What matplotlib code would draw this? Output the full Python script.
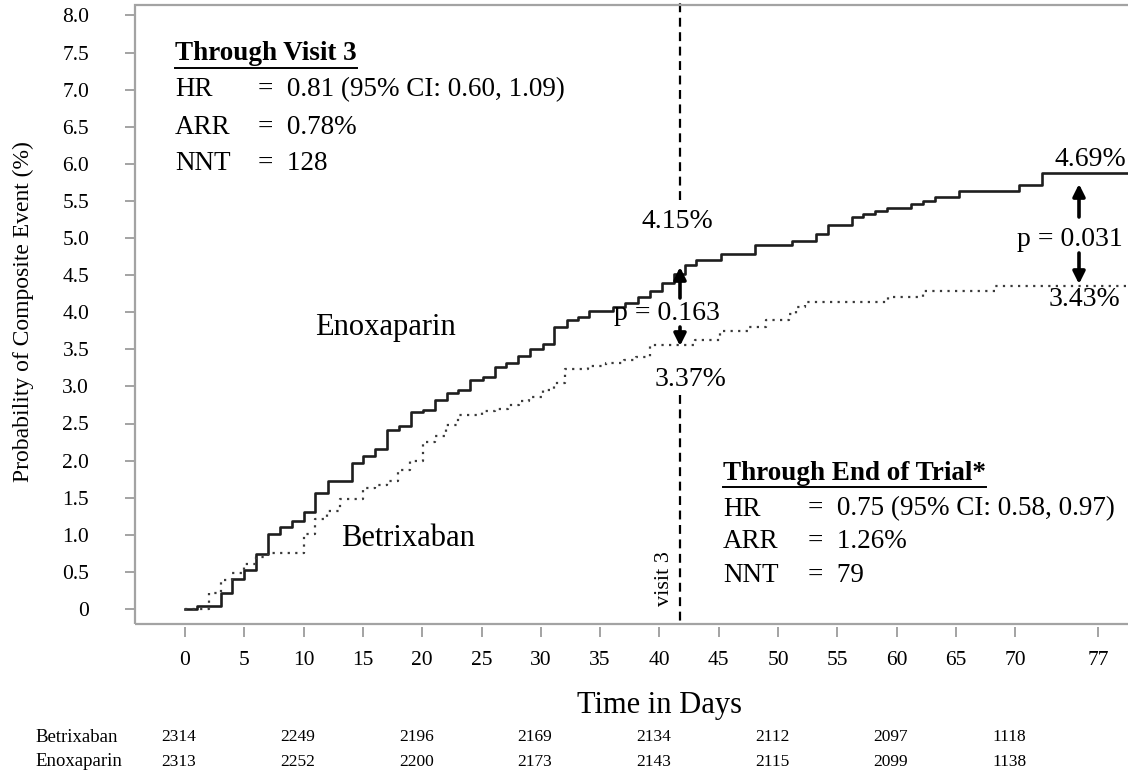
import matplotlib
matplotlib.use("Agg")
import matplotlib.pyplot as plt
from matplotlib.lines import Line2D
from matplotlib.patches import Rectangle
import matplotlib.transforms as mtransforms

plt.rcParams['font.family'] = ['Liberation Serif', 'DejaVu Serif']

# ---------------- data ----------------
enox_days = [0, 1.0, 3.0, 4.0, 5.0, 6.0, 7.0, 8.05, 9.05, 10.05, 11.0, 12.05, 14.05, 15.0,
             16.05, 17.05, 18.05, 19.05, 20.1, 21.1, 22.1, 23.0, 24.0, 25.1, 26.1, 27.1,
             28.1, 29.1, 30.2, 31.1, 32.2, 33.1, 34.1, 36.1, 37.1, 38.2, 39.2, 40.2, 41.2,
             42.2, 43.1, 45.2, 48.1, 51.2, 53.2, 54.2, 56.2, 57.2, 58.2, 59.2, 61.2, 62.2,
             63.2, 65.3, 70.3, 72.3, 80.5]
enox_vals = [0, 0.044, 0.21, 0.40, 0.53, 0.745, 1.01, 1.10, 1.19, 1.31, 1.57, 1.72, 1.97, 2.06,
             2.15, 2.41, 2.47, 2.65, 2.68, 2.82, 2.91, 2.95, 3.09, 3.13, 3.26, 3.31,
             3.41, 3.50, 3.57, 3.80, 3.89, 3.93, 4.02, 4.07, 4.13, 4.21, 4.28, 4.39, 4.51,
             4.64, 4.71, 4.78, 4.91, 4.96, 5.05, 5.18, 5.28, 5.32, 5.37, 5.41, 5.46, 5.50,
             5.55, 5.64, 5.71, 5.87, 5.87]

betr_days = [0, 2.0, 3.0, 4.0, 5.0, 6.0, 7.0, 10.0, 11.0, 12.0, 13.1, 15.0, 16.0, 17.0,
             18.0, 19.0, 20.1, 21.1, 22.0, 23.0, 25.0, 26.1, 27.2, 28.2, 29.0, 30.2, 31.1,
             32.0, 34.0, 35.5, 37.0, 38.0, 39.2, 43.0, 45.1, 47.5, 49.0, 50.9, 51.5, 52.3,
             59.3, 62.2, 68.3, 80.5]
betr_vals = [0, 0.21, 0.39, 0.48, 0.61, 0.70, 0.75, 1.01, 1.21, 1.32, 1.48, 1.63, 1.67, 1.72,
             1.87, 1.99, 2.25, 2.33, 2.48, 2.61, 2.67, 2.70, 2.75, 2.80, 2.86, 2.95, 3.05,
             3.24, 3.27, 3.32, 3.36, 3.40, 3.56, 3.63, 3.74, 3.80, 3.89, 3.98, 4.07, 4.14,
             4.21, 4.29, 4.35, 4.35]

x_ticks = [0, 5, 10, 15, 20, 25, 30, 35, 40, 45, 50, 55, 60, 65, 70, 77]
y_ticks = [0, 0.5, 1.0, 1.5, 2.0, 2.5, 3.0, 3.5, 4.0, 4.5, 5.0, 5.5, 6.0, 6.5, 7.0, 7.5, 8.0]
y_tick_labels = ['0'] + ['%.1f' % v for v in y_ticks[1:]]

risk_days = [0, 10, 20, 30, 40, 50, 60, 70]
risk_betrixaban = [2314, 2249, 2196, 2169, 2134, 2112, 2097, 1118]
risk_enoxaparin = [2313, 2252, 2200, 2173, 2143, 2115, 2099, 1138]

visit3_day = 41.74

W, H = 1128, 780
fig = plt.figure(figsize=(W / 100, H / 100), dpi=100)

# pixel-based axes placement
ax_left, ax_right, ax_top, ax_bottom = 135, 1136, 5, 624
ax = fig.add_axes([ax_left / W, 1 - ax_bottom / H, (ax_right - ax_left) / W, (ax_bottom - ax_top) / H])

x0px, xscale = 185.0, 11.86
y0px, yscale = 609.0, 74.2


def P(x, y):
    """pixel position -> data coordinates (for annotation placement)"""
    return (x - x0px) / xscale, (y0px - y) / yscale


ax.set_xlim(P(ax_left, 0)[0], P(ax_right, 0)[0])
ax.set_ylim(P(0, ax_bottom)[1], P(0, ax_top)[1])

for s in ax.spines.values():
    s.set_visible(False)
ax.spines['bottom'].set_position(('outward', 2.5))
frame_col = '#a3a3a3'
ax.add_patch(Rectangle((0, 0), 1, 1, transform=ax.transAxes, fill=False,
                       edgecolor=frame_col, lw=1.6, clip_on=False, zorder=5))

ax.set_xticks(x_ticks)
ax.set_xticklabels([str(t) for t in x_ticks], fontsize=15.5)
ax.set_yticks(y_ticks)
ax.set_yticklabels(y_tick_labels, fontsize=15.5)
ax.tick_params(axis='x', direction='out', length=7, width=1.4, color=frame_col, pad=10)
ax.tick_params(axis='y', direction='out', length=7, width=1.4, color=frame_col, pad=26)

# curves
ax.step(enox_days, enox_vals, where='post', color='#1e1e1e', lw=1.9, zorder=3)
ax.step(betr_days, betr_vals, where='post', color='#3a3a3a', lw=1.6,
        linestyle=(0, (1, 2.4)), zorder=3)

# visit 3 line (broken around the labels)
ax.plot([visit3_day, visit3_day], [P(0, 200)[1], 8.3], color='black', lw=1.6,
        linestyle=(0, (4, 2.5)), clip_on=False)
ax.plot([visit3_day, visit3_day], [P(0, 395)[1], P(0, 622)[1]], color='black', lw=1.6,
        linestyle=(0, (4, 2.5)))
ax.text(*P(664, 579), 'visit 3', rotation=90, ha='center', va='center', fontsize=16)

# group labels
ax.text(*P(385, 328), 'Enoxaparin', ha='center', va='center', fontsize=22)
ax.text(*P(408, 538), 'Betrixaban', ha='center', va='center', fontsize=22)

# percentages and p-values
ax.text(*P(677, 222), '4.15%', ha='center', va='center', fontsize=20)
ax.text(*P(690, 380), '3.37%', ha='center', va='center', fontsize=20)
ax.text(*P(667, 313), 'p = 0.163', ha='center', va='center', fontsize=20)
ax.text(*P(1090, 160), '4.69%', ha='center', va='center', fontsize=20)
ax.text(*P(1084, 300), '3.43%', ha='center', va='center', fontsize=20)
ax.text(*P(1070, 240), 'p = 0.031', ha='center', va='center', fontsize=20)

aprops = dict(arrowstyle='-|>', color='black', lw=2.6, mutation_scale=18, shrinkA=0, shrinkB=0)
ax.annotate('', xy=P(680, 267), xytext=P(680, 298), arrowprops=aprops)
ax.annotate('', xy=P(680, 346), xytext=P(680, 327), arrowprops=aprops)
ax.annotate('', xy=P(1079, 184), xytext=P(1079, 217), arrowprops=aprops)
ax.annotate('', xy=P(1079, 284), xytext=P(1079, 253), arrowprops=aprops)

# statistics blocks
fs_blk = 19.5


def block(x, ytitle, title, rows, eq_x, first_dy, dy):
    t = ax.text(*P(x, ytitle), title, fontsize=fs_blk, fontweight='bold', ha='left', va='center')
    for i, (lab, val) in enumerate(rows):
        yy = ytitle + first_dy + dy * i
        ax.text(*P(x, yy), lab, fontsize=fs_blk, ha='left', va='center')
        ax.text(*P(eq_x, yy), '=  ' + val, fontsize=fs_blk, ha='left', va='center')
    return t


t1 = block(175, 54, 'Through Visit 3',
           [('HR', '0.81 (95% CI: 0.60, 1.09)'), ('ARR', '0.78%'), ('NNT', '128')], 258, 36, 37)
t2 = block(723, 473, 'Through End of Trial*',
           [('HR', '0.75 (95% CI: 0.58, 0.97)'), ('ARR', '1.26%'), ('NNT', '79')], 808, 36, 33)

# axis labels
tr = mtransforms.blended_transform_factory(ax.transData, fig.transFigure)
ax.text(P(659, 0)[0], 1 - 705 / H, 'Time in Days', transform=tr,
        ha='center', va='center', fontsize=22, clip_on=False)
fig.text(23 / W, 1 - 312 / H, 'Probability of Composite Event (%)', rotation=90,
         ha='center', va='center', fontsize=17)

# number at risk table
fig.text(35 / W, 1 - 737 / H, 'Betrixaban', ha='left', va='center', fontsize=13.5)
fig.text(35 / W, 1 - 762 / H, 'Enoxaparin', ha='left', va='center', fontsize=13.5)
for d, b, e in zip(risk_days, risk_betrixaban, risk_enoxaparin):
    ax.text(d - 0.5, 1 - 737 / H, str(b), transform=tr, ha='center', va='center', fontsize=12.5,
            clip_on=False)
    ax.text(d - 0.5, 1 - 762 / H, str(e), transform=tr, ha='center', va='center', fontsize=12.5,
            clip_on=False)

# underlines for block titles
fig.canvas.draw()
r = fig.canvas.get_renderer()
for t in (t1, t2):
    bb = t.get_window_extent(renderer=r)
    fig.add_artist(Line2D([bb.x0 / W, bb.x1 / W], [(bb.y0 - 1) / H, (bb.y0 - 1) / H],
                          color='black', lw=1.4))

fig.savefig('out.png', dpi=100)
